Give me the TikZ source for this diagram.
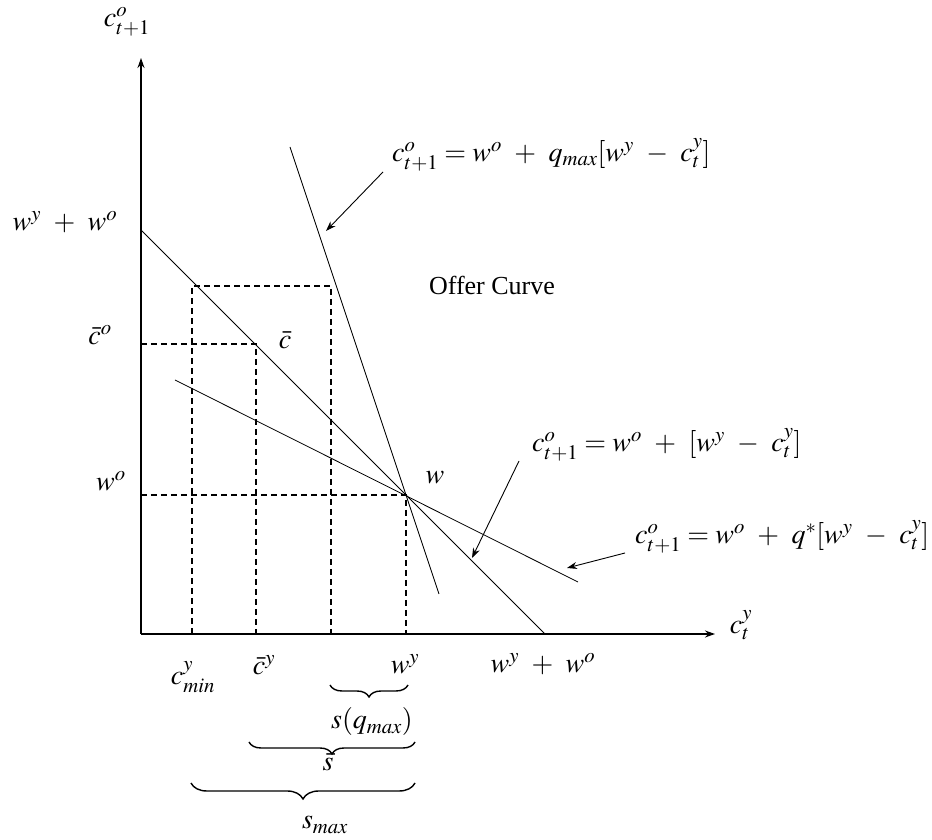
\documentclass[tikz,border=0pt]{standalone}
\usepackage{mathptmx}
\usepackage{fontspec}
\setmainfont{Liberation Serif}
\usetikzlibrary{arrows.meta,decorations.pathreplacing}
\tikzset{
  >={Stealth[length=10pt,width=7pt]},
  axis/.style={->,line width=2pt},
  budget/.style={line width=0.8pt},
  guide/.style={line width=1.4pt,dash pattern=on 6pt off 4pt},
  pointer/.style={->,line width=0.9pt},
  lab/.style={inner sep=0pt},
  brc/.style={decorate,decoration={brace,mirror,amplitude=12pt},line width=1.4pt},
}
\medmuskip=8mu plus 2mu minus 2mu

\begin{document}
\begin{tikzpicture}[x=1pt,y=1pt,every node/.style={font=\fontsize{28}{34}\selectfont}]
\useasboundingbox (-141,-206) rectangle (791,634);
% axes
\coordinate (O) at (0,0);
\coordinate (ytop) at (0,576);
\coordinate (xend) at (574,0);
\draw[axis] (O) -- (ytop);
\draw[axis] (O) -- (xend);
\node[lab] (ylab) at (-14,612) {$c^o_{t+1}$};
\node[lab] (xlab) at (600,9) {$c^y_t$};
% endowment point
\coordinate (w) at (265,139);
\node[lab] (wlab) at (294,156) {$w$};
% budget lines
\coordinate (b1a) at (0,404);
\coordinate (b1b) at (404,0);
\draw[budget] (b1a) -- (b1b);
\coordinate (qma) at (149,487);
\coordinate (qmb) at (298,40);
\draw[budget] (qma) -- (qmb);
\coordinate (qsa) at (34,254);
\coordinate (qsb) at (437,52);
\draw[budget] (qsa) -- (qsb);
% dashed guides
\draw[guide] (0,139) -- (w) -- (265,0);
\coordinate (cbar) at (115,290);
\draw[guide] (0,290) -- (cbar) -- (115,0);
\draw[guide] (51,0) -- (51,348) -- (190,348) -- (190,0);
% labels on the axes
\node[lab] (wywo) at (-76,412) {$w^y+w^o$};
\node[lab] (cbo) at (-41,299) {$\bar{c}^o$};
\node[lab] (wo) at (-30,153) {$w^o$};
\node[lab] (cbl) at (144,294) {$\bar{c}$};
\node[lab,font=\fontsize{26}{32}\selectfont] (offer) at (351,349) {Offer Curve};
\node[lab] (cmin) at (52,-43) {$c^y_{min}$};
\node[lab] (cby) at (123,-31) {$\bar{c}^y$};
\node[lab] (wy) at (264,-30) {$w^y$};
\node[lab] (wyo) at (402,-30) {$w^y+w^o$};
% equations and pointers
\node[lab,anchor=west] (eq1) at (251,479) {$c^o_{t+1}=w^o+q_{max}[w^y-c^y_t]$};
\node[lab,anchor=west] (eq2) at (391,189) {$c^o_{t+1}=w^o+[w^y-c^y_t]$};
\node[lab,anchor=west] (eq3) at (494,97) {$c^o_{t+1}=w^o+q^*[w^y-c^y_t]$};
\coordinate (p1a) at (242,462);
\coordinate (p1b) at (185,403);
\coordinate (p2a) at (378,173);
\coordinate (p2b) at (331,76);
\coordinate (p3a) at (484,81);
\coordinate (p3b) at (426,66);
\draw[pointer] (p1a) -- (p1b);
\draw[pointer] (p2a) -- (p2b);
\draw[pointer] (p3a) -- (p3b);
% savings braces
\draw[brc] (189,-51) -- (267,-51);
\node[lab] (sq) at (231,-88) {$s(q_{max})$};
\draw[brc] (108,-108) -- (274,-108);
\node[lab] (sbar) at (187,-128) {$\bar{s}$};
\draw[brc,decoration={amplitude=16pt}] (50,-149) -- (274,-149);
\node[lab] (smax) at (184,-191) {$s_{max}$};
\end{tikzpicture}
\end{document}
